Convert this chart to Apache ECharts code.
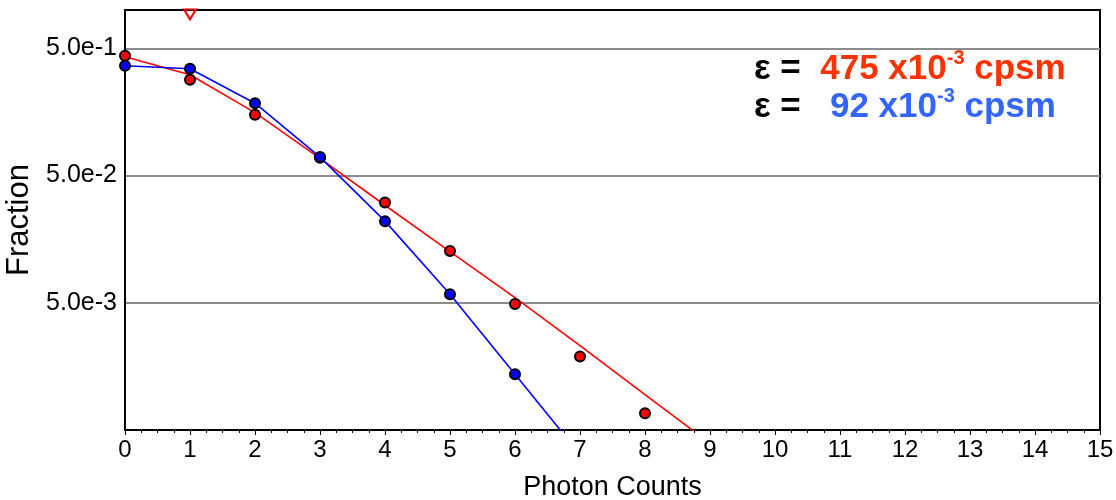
<!DOCTYPE html>
<html>
<head>
<meta charset="utf-8">
<script src="https://cdn.jsdelivr.net/npm/echarts@6/dist/echarts.min.js"></script>
<style>
  html, body { margin: 0; padding: 0; background: #fff; }
  #chart { width: 1116px; height: 500px; }
</style>
</head>
<body>
<div id="chart"></div>
<script>
// measured points
var counts = [0, 1, 2, 3, 4, 5, 6, 7, 8];
var redFrac = [0.437, 0.283, 0.150, 0.069, 0.0307, 0.01275, 0.0049, 0.00189, 0.000678];
var blueCounts = [0, 1, 2, 3, 4, 5, 6];
var blueFrac = [0.365, 0.3455, 0.185, 0.0698, 0.0219, 0.00584, 0.00137];

// fitted curves
var redFitX = [0, 1, 2, 3, 4, 5, 6, 7, 8, 9];
var redFit = [0.429, 0.310, 0.156, 0.0682, 0.0292, 0.01263, 0.00549, 0.0023, 0.00095, 0.000393];
var blueFitX = [0, 1, 2, 3, 4, 5, 6, 7];
var blueFit = [0.365, 0.3455, 0.185, 0.0698, 0.0219, 0.00584, 0.00137, 0.000322];

// off-scale marker
var offScaleX = [1];
var offScaleY = [0.923];

var yTicks = [0.005, 0.05, 0.5];

function pairs(xs, ys) {
  return xs.map(function (x, i) { return [x, ys[i]]; });
}

var chart = echarts.init(document.getElementById('chart'));
var font = 'Arial, "Liberation Sans", sans-serif';

var option = {
  animation: false,
  backgroundColor: '#fff',
  grid: {
    left: 125, right: 16, top: 10, bottom: 70,
    containLabel: false, outerBoundsMode: 'none',
    show: true, borderColor: '#000', borderWidth: 2, backgroundColor: '#fff'
  },
  xAxis: {
    type: 'value',
    min: 0, max: 15, interval: 1,
    name: 'Photon Counts',
    nameLocation: 'middle',
    nameGap: 44,
    nameTextStyle: { fontFamily: font, fontSize: 27, color: '#000' },
    axisLine: { lineStyle: { color: '#000', width: 2 } },
    axisTick: { show: true, length: 5, lineStyle: { color: '#000', width: 1 } },
    minorTick: { show: true, splitNumber: 4, length: 3, lineStyle: { color: '#000', width: 1 } },
    axisLabel: { fontFamily: font, fontSize: 24, color: '#000', margin: 8 },
    splitLine: { show: false }
  },
  yAxis: {
    type: 'log',
    logBase: 10,
    min: 0.0005, max: 1,
    name: 'Fraction',
    nameLocation: 'middle',
    nameGap: 89,
    nameTextStyle: { fontFamily: font, fontSize: 31, color: '#000' },
    axisLine: { lineStyle: { color: '#000', width: 2 } },
    axisTick: { show: false, customValues: yTicks },
    minorTick: { show: false },
    axisLabel: {
      customValues: yTicks,
      fontFamily: font, fontSize: 25, color: '#000', margin: 8,
      formatter: function (v) { return Number(v).toExponential(1); }
    },
    splitLine: { show: true, lineStyle: { color: '#8c8c8c', width: 2 } },
    minorSplitLine: { show: false }
  },
  graphic: [
    {
      type: 'text', left: 754, top: 48,
      style: {
        text: '{k|ε =  }{r|475 x10}{rs|-3}{r| cpsm}',
        rich: {
          k: { fontFamily: font, fontSize: 35, fontWeight: 'bold', fill: '#000', lineHeight: 42 },
          r: { fontFamily: font, fontSize: 35, fontWeight: 'bold', fill: '#ff3300', lineHeight: 42 },
          rs: { fontFamily: font, fontSize: 20, fontWeight: 'bold', fill: '#ff3300', verticalAlign: 'top', lineHeight: 24 }
        }
      }
    },
    {
      type: 'text', left: 754, top: 86,
      style: {
        text: '{k|ε =   }{b|92 x10}{bs|-3}{b| cpsm}',
        rich: {
          k: { fontFamily: font, fontSize: 35, fontWeight: 'bold', fill: '#000', lineHeight: 42 },
          b: { fontFamily: font, fontSize: 35, fontWeight: 'bold', fill: '#3366ff', lineHeight: 42 },
          bs: { fontFamily: font, fontSize: 20, fontWeight: 'bold', fill: '#3366ff', verticalAlign: 'top', lineHeight: 24 }
        }
      }
    }
  ],
  series: [
    {
      name: 'red fit', type: 'line', data: pairs(redFitX, redFit),
      showSymbol: false, symbol: 'none', smooth: false,
      lineStyle: { color: '#ff0000', width: 1.6 }, z: 2
    },
    {
      name: 'blue fit', type: 'line', data: pairs(blueFitX, blueFit),
      showSymbol: false, symbol: 'none',
      lineStyle: { color: '#0000ff', width: 1.6 }, z: 2
    },
    {
      name: 'red', type: 'scatter', data: pairs(counts, redFrac),
      symbol: 'circle', symbolSize: 10,
      itemStyle: { color: '#ff0000', opacity: 1, borderColor: '#000', borderWidth: 2 }, z: 3
    },
    {
      name: 'blue', type: 'scatter', data: pairs(blueCounts, blueFrac),
      symbol: 'circle', symbolSize: 10,
      itemStyle: { color: '#0000ff', opacity: 1, borderColor: '#000', borderWidth: 2 }, z: 4
    },
    {
      name: 'off scale', type: 'scatter', data: pairs(offScaleX, offScaleY),
      symbol: 'triangle', symbolRotate: 180, symbolSize: [12, 10],
      itemStyle: { color: 'rgba(0,0,0,0)', opacity: 1, borderColor: '#ff0000', borderWidth: 2 }, z: 1
    }
  ]
};

chart.setOption(option);
</script>
</body>
</html>
